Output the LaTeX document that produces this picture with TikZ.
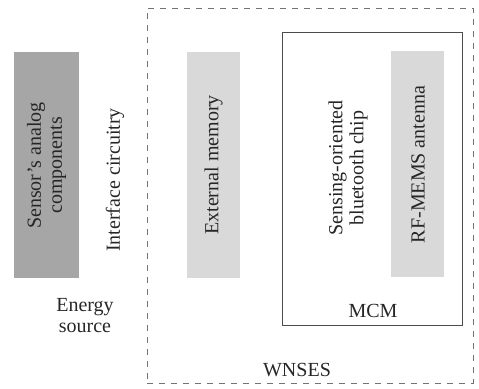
\documentclass[tikz,border=0pt]{standalone}
\usepackage{fontspec}
\setmainfont{Liberation Serif}
\begin{document}
\begin{tikzpicture}[x=0.5pt, y=-0.5pt, every node/.style={font=\fontsize{10}{10.5}\selectfont, text=black!85}]

    % Styles
    \tikzstyle{dark_col} = [fill=black!35, draw=none, rotate=90, align=center,
        minimum width=113pt, minimum height=32.5pt, inner sep=0pt]
    \tikzstyle{light_col} = [fill=black!15, draw=none, rotate=90, align=center,
        minimum width=113pt, minimum height=26.5pt, inner sep=0pt]
    \tikzstyle{plain_txt} = [align=center, inner sep=1pt]
    \tikzstyle{wnses_box} = [draw=black!55, dashed, minimum width=163pt, minimum height=187.5pt]
    \tikzstyle{mcm_box} = [draw=black!70, minimum width=90pt, minimum height=146.5pt]

    \useasboundingbox (0,0) rectangle (479,389);

    % Outer dashed frame and MCM frame
    \node[wnses_box] (wnses) at (310,195.5) {};
    \node[mcm_box] (mcm) at (372,178.5) {};

    % Left part
    \node[dark_col] (sensor) at (46.5,165.5) {Sensor's analog\\ components};
    \node[plain_txt, rotate=90] (iface) at (115,180) {Interface circuitry};
    \node[plain_txt] (energy) at (85,316) {Energy\\ source};

    % Inside WNSES
    \node[light_col] (extmem) at (213.5,165) {External memory};
    \node[plain_txt, rotate=90] (chip) at (348,168) {Sensing-oriented\\ bluetooth chip};
    \node[light_col] (antenna) at (418,164.5) {RF-MEMS antenna};

    % Labels
    \node[plain_txt] (mcmlbl) at (373,311) {MCM};
    \node[plain_txt] (wnseslbl) at (297,370) {WNSES};

\end{tikzpicture}
\end{document}
